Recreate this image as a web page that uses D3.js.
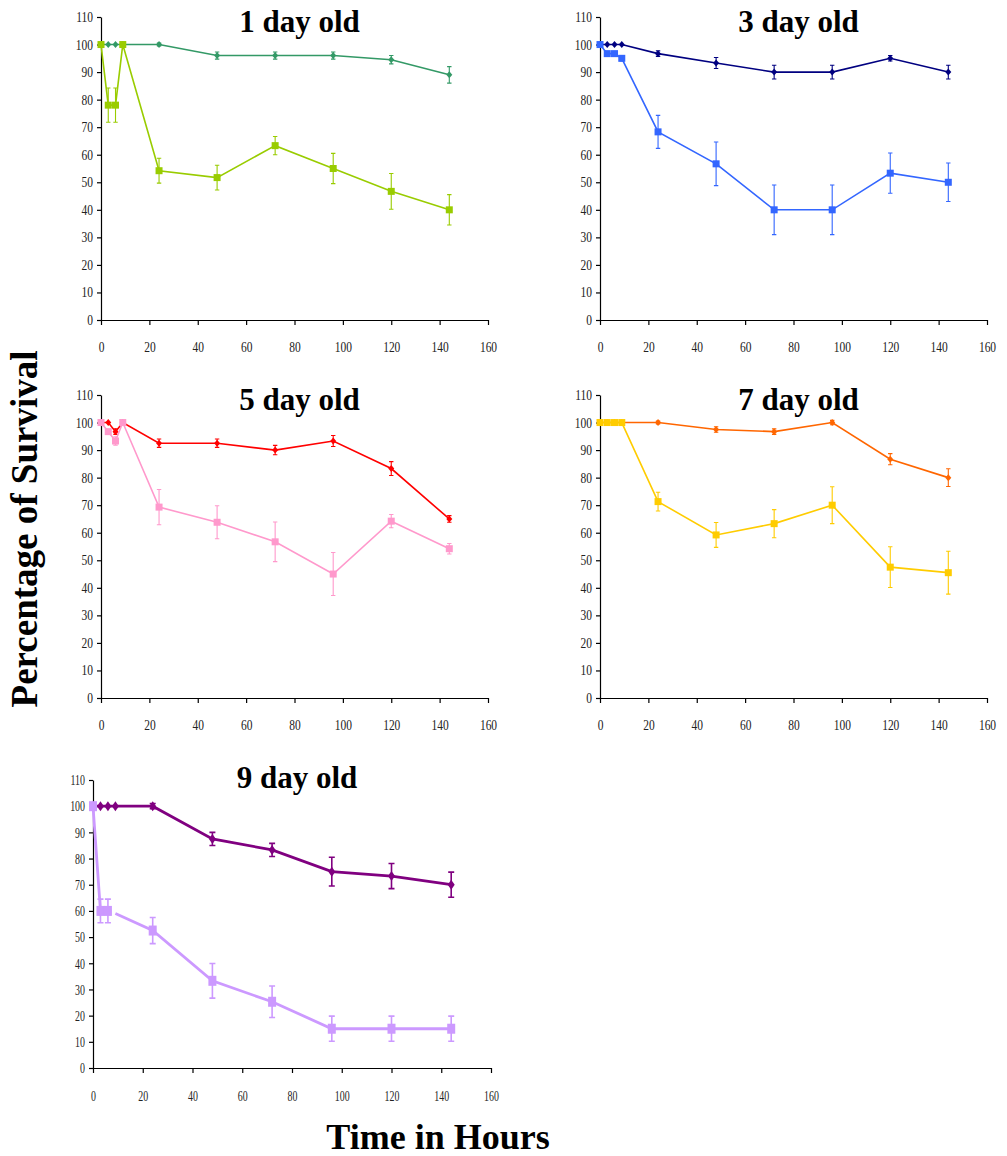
<!DOCTYPE html>
<html>
<head>
<meta charset="utf-8">
<script src="https://cdn.jsdelivr.net/npm/d3@7"></script>
<style>
  body { margin: 0; background: #fff; }
  svg { display: block; }
  .title { font-family: "Liberation Serif", "Times New Roman", serif; font-weight: bold; }
</style>
</head>
<body>
<svg id="chart" width="1007" height="1156"></svg>
<script>
// sampling times (hours) shared by every panel
const hours = [0, 3, 6, 9, 24, 48, 72, 96, 120, 144];
const xTicks = [0, 20, 40, 60, 80, 100, 120, 140, 160];
const yTicks = [0, 10, 20, 30, 40, 50, 60, 70, 80, 90, 100, 110];
const titles = ['1 day old', '3 day old', '5 day old', '7 day old', '9 day old'];

// 1 day old
const day1Control = [100, 100, 100, 100, 100, 96, 96, 96, 94.5, 89];
const day1ControlErr = [0, 0, 0, 0, 0.5, 1.3, 1.3, 1.3, 1.5, 3];
const day1Treated = [100, 78, 78, 100, 54.2, 51.7, 63.3, 55, 46.7, 40];
const day1TreatedErr = [0, 6.2, 6.2, 0, 4.5, 4.5, 3.3, 5.5, 6.5, 5.5];

// 3 day old
const day3Control = [100, 100, 100, 100, 96.7, 93.3, 90, 90, 95, 90];
const day3ControlErr = [0, 0, 0, 0, 1, 2, 2.5, 2.5, 1, 2.5];
const day3Treated = [100, 96.7, 96.7, 95, 68.3, 56.7, 40, 40, 53.3, 50];
const day3TreatedErr = [0, 0, 0, 1, 6, 7.9, 9, 9, 7.3, 7];

// 5 day old
const day5Control = [100, 100, 96.7, 100, 92.5, 92.5, 90, 93.3, 83.3, 65];
const day5ControlErr = [0, 0, 1, 0, 1.5, 1.5, 1.7, 2, 2.5, 1.2];
const day5Treated = [100, 96.7, 93.3, 100, 69.3, 63.8, 56.7, 45, 64.2, 54.2];
const day5TreatedErr = [0, 0, 1.5, 0, 6.4, 6, 7.2, 7.8, 2.4, 1.9];

// 7 day old
const day7Control = [100, 100, 100, 100, 100, 97.5, 96.7, 100, 86.7, 80];
const day7ControlErr = [0, 0, 0, 0, 0.5, 1, 1, 0.8, 2, 3.2];
const day7Treated = [100, 100, 100, 100, 71.3, 59.2, 63.3, 70, 47.5, 45.5];
const day7TreatedErr = [0, 0, 0, 0, 3.4, 4.5, 5.1, 6.7, 7.4, 7.8];

// 9 day old (treated series: no marker and no joining line at 9 h)
const day9Control = [100, 100, 100, 100, 100, 87.5, 83.3, 75, 73.3, 70];
const day9ControlErr = [0, 0, 0, 0, 1, 2.5, 2.5, 5.5, 4.8, 4.8];
const day9Treated = [100, 60, 60, 59, 52.5, 33.3, 25.3, 15, 15, 15];
const day9TreatedErr = [0, 4.5, 4.5, 0, 5, 6.6, 6, 4.8, 4.8, 4.8];
const day9Hidden = [9];

const colors = [
  ['#339966', '#99cc00'],
  ['#000080', '#3366ff'],
  ['#ff0000', '#ff99cc'],
  ['#ff6600', '#ffcc00'],
  ['#800080', '#cc99ff']
];

const serif = '"Liberation Serif", "Times New Roman", serif';

const panels = [
  { left: 101, right: 488, top: 17, bottom: 320, titleY: 32, ctl: day1Control, ctlErr: day1ControlErr, trt: day1Treated, trtErr: day1TreatedErr, lw: 1.6, big: false, squeeze: 0.82 },
  { left: 600, right: 987, top: 17, bottom: 320, titleY: 32, ctl: day3Control, ctlErr: day3ControlErr, trt: day3Treated, trtErr: day3TreatedErr, lw: 1.6, big: false, squeeze: 0.82 },
  { left: 101, right: 488, top: 395, bottom: 698, titleY: 410, ctl: day5Control, ctlErr: day5ControlErr, trt: day5Treated, trtErr: day5TreatedErr, lw: 1.6, big: false, squeeze: 0.82 },
  { left: 600, right: 987, top: 395, bottom: 698, titleY: 410, ctl: day7Control, ctlErr: day7ControlErr, trt: day7Treated, trtErr: day7TreatedErr, lw: 1.6, big: false, squeeze: 0.82 },
  { left: 93, right: 491, top: 780, bottom: 1068, titleY: 788, ctl: day9Control, ctlErr: day9ControlErr, trt: day9Treated, trtErr: day9TreatedErr, lw: 2.8, big: true, squeeze: 0.66, hidden: day9Hidden }
];

const svg = d3.select('#chart');

panels.forEach((p, pi) => {
  const x = d3.scaleLinear().domain([0, 160]).range([p.left, p.right]);
  const y = d3.scaleLinear().domain([0, 110]).range([p.bottom, p.top]);
  const g = svg.append('g').attr('class', 'panel');

  // y axis
  const ya = g.append('g')
    .attr('transform', `translate(${p.left},0)`)
    .call(d3.axisLeft(y).tickValues(yTicks).tickSize(4).tickSizeOuter(0).tickPadding(5));
  // x axis
  const xa = g.append('g')
    .attr('transform', `translate(0,${p.bottom})`)
    .call(d3.axisBottom(x).tickValues(xTicks).tickSize(5).tickSizeOuter(0).tickPadding(17));

  [ya, xa].forEach(a => {
    a.attr('font-family', serif).attr('font-size', p.big ? 15 : 14);
    a.select('.domain').attr('stroke', '#000').attr('stroke-width', 1.2);
    a.selectAll('.tick line').attr('stroke', '#000').attr('stroke-width', 1.2);
    a.selectAll('.tick text').attr('fill', '#222');
  });
  ya.selectAll('.tick text')
    .attr('transform', `scale(${p.squeeze},1)`)
    .attr('x', -8 / p.squeeze);
  xa.selectAll('.tick text')
    .attr('transform', `scale(${p.squeeze},1)`);

  g.append('text')
    .attr('class', 'title')
    .attr('x', (p.left + p.right) / 2 + 5)
    .attr('y', p.titleY)
    .attr('text-anchor', 'middle')
    .attr('font-size', 31)
    .text(titles[pi]);

  const series = [
    { vals: p.ctl, err: p.ctlErr, color: colors[pi][0], shape: 'diamond' },
    { vals: p.trt, err: p.trtErr, color: colors[pi][1], shape: 'square', hidden: p.hidden || [] }
  ];

  series.forEach(s => {
    const pts = hours.map((h, i) => ({ h, v: s.vals[i], e: s.err[i] }));
    const hidden = s.hidden || [];

    // lines; a hidden point starts a new piece so the join before it is not drawn
    const pieces = [];
    let cur = [];
    pts.forEach(d => {
      if (hidden.includes(d.h)) { if (cur.length) pieces.push(cur); cur = []; }
      cur.push(d);
    });
    pieces.push(cur);
    const line = d3.line().x(d => x(d.h)).y(d => y(d.v));
    pieces.forEach(pc => {
      g.append('path')
        .attr('d', line(pc))
        .attr('fill', 'none')
        .attr('stroke', s.color)
        .attr('stroke-width', p.lw);
    });

    // error bars
    const eb = pts.filter(d => d.e > 0);
    const cap = p.big ? 3 : 2.2;
    g.selectAll(null).data(eb).enter().append('path')
      .attr('d', d => {
        const cx = x(d.h), y1 = y(d.v + d.e), y2 = y(d.v - d.e);
        return `M${cx},${y1}V${y2}M${cx - cap},${y1}H${cx + cap}M${cx - cap},${y2}H${cx + cap}`;
      })
      .attr('stroke', s.color)
      .attr('stroke-width', p.big ? 1.6 : 1.1)
      .attr('fill', 'none');

    // markers
    const mk = pts.filter(d => !hidden.includes(d.h));
    if (s.shape === 'square') {
      const w = p.big ? 8 : 7, hgt = p.big ? 10 : 7;
      g.selectAll(null).data(mk).enter().append('rect')
        .attr('x', d => x(d.h) - w / 2)
        .attr('y', d => y(d.v) - hgt / 2)
        .attr('width', w)
        .attr('height', hgt)
        .attr('fill', s.color);
    } else {
      const hw = p.big ? 3.5 : 3, hh = p.big ? 5 : 3.5;
      g.selectAll(null).data(mk).enter().append('path')
        .attr('d', d => {
          const cx = x(d.h), cy = y(d.v);
          return `M${cx},${cy - hh}L${cx + hw},${cy}L${cx},${cy + hh}L${cx - hw},${cy}Z`;
        })
        .attr('fill', s.color);
    }
  });
});

// shared axis titles
svg.append('text')
  .attr('class', 'title')
  .attr('transform', 'translate(37,529) rotate(-90)')
  .attr('text-anchor', 'middle')
  .attr('font-size', 37)
  .text('Percentage of Survival');

svg.append('text')
  .attr('class', 'title')
  .attr('x', 438)
  .attr('y', 1149)
  .attr('text-anchor', 'middle')
  .attr('font-size', 36)
  .text('Time in Hours');
</script>
</body>
</html>
